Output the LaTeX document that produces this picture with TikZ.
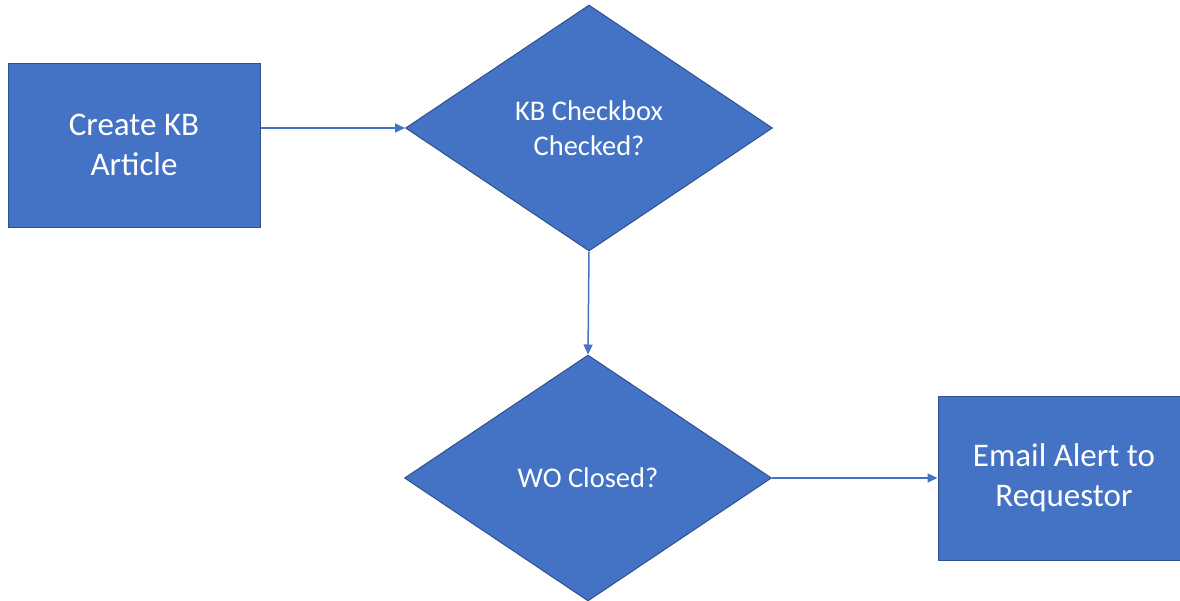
\documentclass[tikz,border=0pt]{standalone}
\usepackage{fontspec}
\setmainfont{Carlito}
\usetikzlibrary{shapes.geometric,arrows.meta}
\definecolor{boxblue}{HTML}{4472C4}
\definecolor{boxedge}{HTML}{2F528F}
\tikzset{
  stepbox/.style={rectangle, fill=boxblue, draw=boxedge, line width=1pt,
    minimum width=252pt, minimum height=164pt, inner sep=0pt,
    text=white, align=center, font=\fontsize{33}{40}\selectfont},
  decision/.style={diamond, fill=boxblue, draw=boxedge, line width=1pt,
    minimum width=367pt, minimum height=246pt, inner sep=0pt,
    text=white, align=center, font=\fontsize{28.5}{35}\selectfont},
  flow/.style={draw=boxblue, line width=1.5pt,
    -{Triangle[length=10pt,width=9pt]}}
}
\begin{document}
\begin{tikzpicture}[x=1pt,y=-1pt]
  \useasboundingbox (0,0) rectangle (1180,600);
  \fill[white] (0,0) rectangle (1180,600);
  \begin{scope}
    \clip (0,0) rectangle (1180,600);
    \node[stepbox] (create) at (134,145) {Create KB\\Article};
    \node[decision] (kb) at (589,128) {KB Checkbox\\Checked?};
    \node[decision] (wo) at (588,478) {WO Closed?};
    \node[stepbox] (email) at (1064,478) {Email Alert to\\Requestor};
    \draw[flow] (create.east |- kb.west) -- (kb.west);
    \draw[flow] (kb.south) -- (wo.north);
    \draw[flow] (wo.east) -- (email.west);
  \end{scope}
\end{tikzpicture}
\end{document}
